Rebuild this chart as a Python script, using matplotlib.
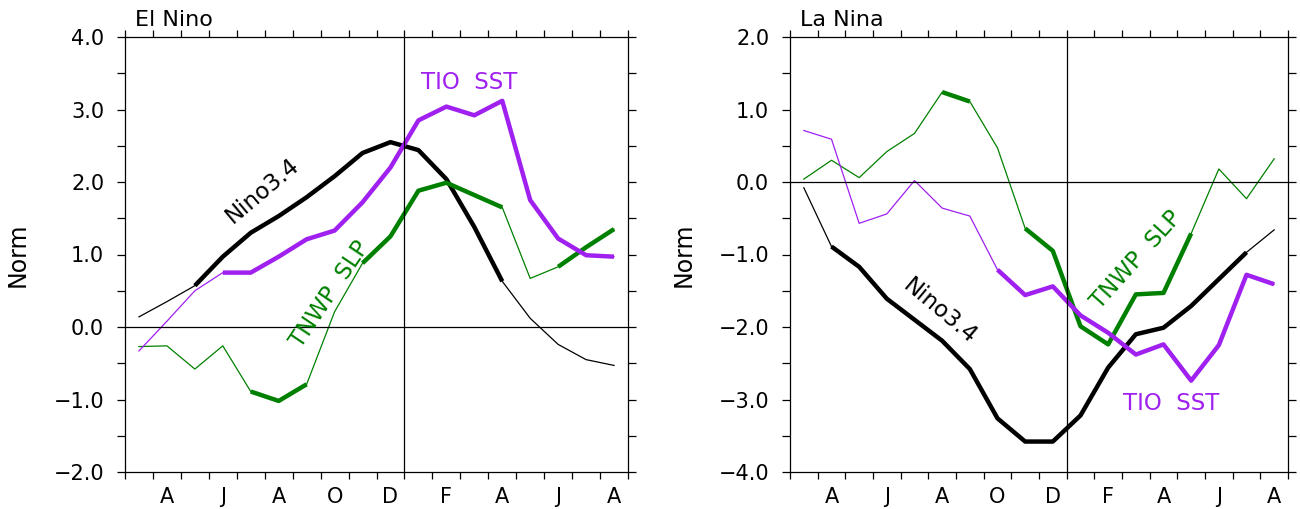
import numpy as np
import matplotlib.pyplot as plt
from matplotlib.ticker import MultipleLocator, FixedLocator, NullFormatter

plt.rcParams.update({"font.size": 15, "font.family": "DejaVu Sans"})

# Months Mar(0) .. Aug(+1), values at month centres
months = np.arange(18)
month_labels = ["A", "J", "A", "O", "D", "F", "A", "J", "A"]
label_pos = [1, 3, 5, 7, 9, 11, 13, 15, 17]

# El Nino composite
en_nino34 = [0.14, 0.35, 0.57, 0.97, 1.30, 1.53, 1.79, 2.08, 2.40, 2.55,
             2.44, 2.04, 1.38, 0.63, 0.12, -0.24, -0.45, -0.53]
en_tio = [-0.33, 0.08, 0.50, 0.75, 0.75, 0.97, 1.21, 1.33, 1.72, 2.20,
          2.85, 3.04, 2.92, 3.12, 1.75, 1.22, 0.99, 0.97]
en_slp = [-0.27, -0.26, -0.58, -0.26, -0.89, -1.02, -0.79, 0.21, 0.88, 1.25,
          1.88, 1.99, 1.82, 1.65, 0.67, 0.83, 1.10, 1.35]
en_nino34_sig = [0, 0, 1, 1, 1, 1, 1, 1, 1, 1, 1, 1, 1, 1, 0, 0, 0, 0]
en_tio_sig = [0, 0, 0, 1, 1, 1, 1, 1, 1, 1, 1, 1, 1, 1, 1, 1, 1, 1]
en_slp_sig = [0, 0, 0, 0, 1, 1, 1, 0, 1, 1, 1, 1, 1, 1, 0, 1, 1, 1]

# La Nina composite
ln_nino34 = [-0.08, -0.89, -1.17, -1.61, -1.90, -2.19, -2.58, -3.26, -3.58, -3.58,
             -3.22, -2.56, -2.10, -2.01, -1.71, -1.34, -0.97, -0.66]
ln_tio = [0.71, 0.59, -0.57, -0.44, 0.02, -0.36, -0.47, -1.21, -1.56, -1.44,
          -1.84, -2.08, -2.38, -2.24, -2.74, -2.25, -1.28, -1.41]
ln_slp = [0.04, 0.30, 0.06, 0.42, 0.67, 1.24, 1.11, 0.47, -0.64, -0.95,
          -1.99, -2.24, -1.55, -1.53, -0.71, 0.18, -0.23, 0.32]
ln_nino34_sig = [0, 1, 1, 1, 1, 1, 1, 1, 1, 1, 1, 1, 1, 1, 1, 1, 1, 0]
ln_tio_sig = [0, 0, 0, 0, 0, 0, 0, 1, 1, 1, 1, 1, 1, 1, 1, 1, 1, 1]
ln_slp_sig = [0, 0, 0, 0, 0, 1, 1, 0, 1, 1, 1, 1, 1, 1, 1, 0, 0, 0]

BLACK = "black"
PURPLE = "#a020f0"
GREEN = "#008000"


def draw_series(ax, vals, sig, color):
    vals = np.array(vals, dtype=float)
    ax.plot(months, vals, color=color, linewidth=0.9)
    # significant parts drawn thick
    thick = np.where(np.array(sig, dtype=bool), vals, np.nan)
    ax.plot(months, thick, color=color, linewidth=3.2, solid_capstyle="butt")


def style_axes(ax, ylim, title):
    ax.set_xlim(-0.5, 17.5)
    ax.set_ylim(*ylim)
    ax.axhline(0, color="black", linewidth=0.9)
    ax.axvline(9.5, color="black", linewidth=0.9)
    ax.yaxis.set_major_locator(MultipleLocator(1.0))
    ax.yaxis.set_minor_locator(MultipleLocator(0.5))
    ax.yaxis.set_major_formatter("{x:.1f}")
    ax.xaxis.set_major_locator(FixedLocator(label_pos))
    ax.set_xticklabels(month_labels)
    ax.xaxis.set_minor_locator(FixedLocator(np.arange(-0.5, 18, 1.0)))
    ax.xaxis.set_minor_formatter(NullFormatter())
    ax.tick_params(axis="x", which="major", length=0, pad=11, labelsize=15)
    ax.tick_params(axis="x", which="minor", direction="out", length=5,
                   top=True, bottom=True, width=0.9)
    ax.tick_params(axis="y", which="both", direction="out", length=6,
                   left=True, right=True, width=0.9, labelsize=15, pad=9)
    for s in ax.spines.values():
        s.set_linewidth(0.9)
    ax.set_ylabel("Norm", fontsize=17)
    ax.yaxis.set_label_coords(-0.19, 0.5)
    ax.text(0.02, 1.025, title, transform=ax.transAxes, ha="left",
            va="baseline", fontsize=16)


fig = plt.figure(figsize=(13, 5.09), dpi=100)

ax1 = fig.add_axes([125 / 1300, 37 / 509, 503 / 1300, 435 / 509])
draw_series(ax1, en_nino34, en_nino34_sig, BLACK)
draw_series(ax1, en_slp, en_slp_sig, GREEN)
draw_series(ax1, en_tio, en_tio_sig, PURPLE)
style_axes(ax1, (-2.0, 4.0), "El Nino")
ax1.text(4.43, 1.88, "Nino3.4", rotation=40, color=BLACK, ha="center",
         va="center", fontsize=16.5, rotation_mode="anchor")
ax1.text(11.82, 3.37, "TIO  SST", color=PURPLE, ha="center", va="center",
         fontsize=16.5)
ax1.text(6.82, 0.45, "TNWP  SLP", rotation=56, color=GREEN, ha="center",
         va="center", fontsize=16.5, rotation_mode="anchor")

ax2 = fig.add_axes([790 / 1300, 37 / 509, 498 / 1300, 435 / 509])
draw_series(ax2, ln_nino34, ln_nino34_sig, BLACK)
draw_series(ax2, ln_slp, ln_slp_sig, GREEN)
draw_series(ax2, ln_tio, ln_tio_sig, PURPLE)
style_axes(ax2, (-4.0, 2.0), "La Nina")
ax2.text(4.92, -1.79, "Nino3.4", rotation=-40, color=BLACK, ha="center",
         va="center", fontsize=16.5, rotation_mode="anchor")
ax2.text(13.29, -3.06, "TIO  SST", color=PURPLE, ha="center", va="center",
         fontsize=16.5)
ax2.text(12.03, -1.08, "TNWP  SLP", rotation=48, color=GREEN, ha="center",
         va="center", fontsize=16.5, rotation_mode="anchor")

fig.savefig("out.png", dpi=100)
